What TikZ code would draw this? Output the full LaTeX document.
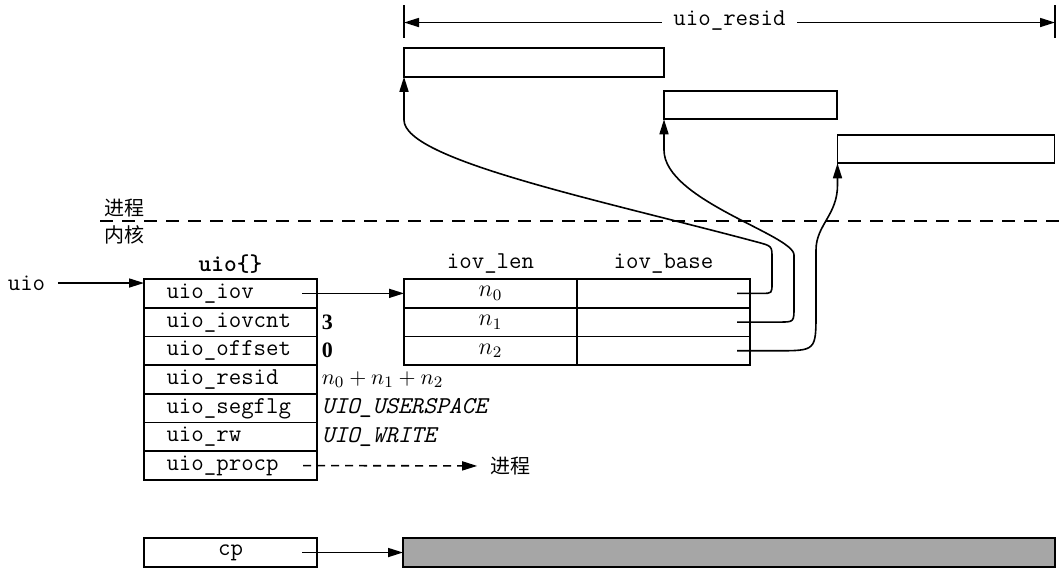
\documentclass[tikz,border=0pt]{standalone}
\usepackage{fontspec}
\setmainfont{Liberation Serif}
\newfontfamily\cjk{Noto Sans CJK SC}
\usetikzlibrary{arrows.meta,positioning,calc}

\begin{document}
\begin{tikzpicture}[x=0.5pt,y=-0.5pt,>={Triangle[length=7.5pt,width=4.5pt]},line width=0.8pt,
      cell/.style={draw,outer sep=0pt,inner xsep=11.25pt,inner ysep=0pt,text width=64pt,align=left,
        minimum height=14.35pt,text height=7.5pt,text depth=2.5pt,font=\fontsize{12.1}{13}\ttfamily},
      vcell/.style={draw,outer sep=0pt,inner sep=0pt,minimum width=86.5pt,minimum height=14.35pt,
        font=\fontsize{11.5}{12}\selectfont},
      buf/.style={draw,outer sep=0pt,inner sep=0pt,minimum height=14.25pt},
      val/.style={inner xsep=2pt,inner ysep=0pt,font=\fontsize{11}{12}\selectfont},
      tt/.style={font=\fontsize{12.1}{13}\ttfamily},
      zh/.style={font=\fontsize{10}{12}\cjk}]
    \useasboundingbox (0,0) rectangle (1059,570);
    % user space buffers
    \coordinate (tickl) at (404,5);
    \coordinate (tickr) at (1055,5);
    \draw (tickl) -- ++(0,33);
    \draw (tickr) -- ++(0,33);
    \node[tt,inner xsep=5.5pt] (residlbl) at (729.5,21) {uio\_resid};
    \draw[->] (residlbl.west |- 0,22.5) -- (tickl |- 0,22.5);
    \draw[->] (residlbl.east |- 0,22.5) -- (tickr |- 0,22.5);
    \node[buf,minimum width=130pt] (buf0) at (534,62.5) {};
    \node[buf,minimum width=86.5pt] (buf1) at (750.5,105) {};
    \node[buf,minimum width=108.5pt] (buf2) at (946,149) {};
    % process / kernel
    \node[zh] (proc) at (124,208) {进程};
    \node[zh] (kern) at (124,235) {内核};
    \coordinate (sepl) at (100,221);
    \coordinate (sepr) at (1059,221);
    \draw[dash pattern=on 6.5pt off 4.5pt] (sepl) -- (sepr);
    % uio structure
    \node[font=\fontsize{12.1}{13}\ttfamily\bfseries] (uiohdr) at (230.5,264) {uio\{\}};
    \node[cell] (iov) at (230.5,293.35) {uio\_iov};
    \node[cell,below=0pt of iov] (iovcnt) {uio\_iovcnt};
    \node[cell,below=0pt of iovcnt] (offset) {uio\_offset};
    \node[cell,below=0pt of offset] (resid) {uio\_resid};
    \node[cell,below=0pt of resid] (segflg) {uio\_segflg};
    \node[cell,below=0pt of segflg] (rw) {uio\_rw};
    \node[cell,below=0pt of rw] (procp) {uio\_procp};
    \node[val,right=0pt of iovcnt] (vcnt) {\textbf{3}};
    \node[val,right=0pt of offset] (voff) {\textbf{0}};
    \node[val,right=0pt of resid] (vsum) {$n_0+n_1+n_2$};
    \node[val,right=0pt of segflg,font=\fontsize{12.1}{13}\ttfamily\itshape] (vseg) {UIO\_USERSPACE};
    \node[val,right=0pt of rw,font=\fontsize{12.1}{13}\ttfamily\itshape] (vrw) {UIO\_WRITE};
    \node[tt,inner xsep=6pt] (uiolbl) at (26.5,283) {uio};
    \draw[->] (uiolbl) -- ($(iov.north west)+(0,4)$);
    \node[zh,inner xsep=6pt] (procref) at (510,466) {进程};
    \draw[->,dash pattern=on 4pt off 3pt] ($(procp.east)+(-14,0)$) -- (procref);
    % iovec array
    \node[tt] (lenhdr) at (490.5,264) {iov\_len};
    \node[tt] (basehdr) at (663.5,264) {iov\_base};
    \node[vcell] (len0) at (490.5,293.35) {$n_0$};
    \node[vcell,below=0pt of len0] (len1) {$n_1$};
    \node[vcell,below=0pt of len1] (len2) {$n_2$};
    \node[vcell,right=0pt of len0] (base0) {};
    \node[vcell,right=0pt of len1] (base1) {};
    \node[vcell,right=0pt of len2] (base2) {};
    \draw[->] ($(iov.east)+(-15,0)$) -- (len0);
    \coordinate (s0) at ($(base0.east)+(-13,0)$);
    \coordinate (s1) at ($(base1.east)+(-13,0)$);
    \coordinate (s2) at ($(base2.east)+(-13,0)$);
    \draw[->] (s0) -- (762,293.35) .. controls (772,293.35) .. (772,283) -- (772,258)
      .. controls (772,246) .. (757,242) .. controls (600,200) and (404,160) .. (404,120) -- (buf0.south west);
    \draw[->] (s1) -- (779,322.05) .. controls (794,322.05) .. (794,307) -- (794,255)
      .. controls (794,235) and (664,200) .. (664,150) -- (buf1.south west);
    \draw[->] (s2) -- (777,350.75) .. controls (816,350.75) .. (816,312) -- (816,250)
      .. controls (816,225) and (837.5,215) .. (837.5,185) -- (buf2.south west);
    % cp
    \node[vcell,font=\fontsize{12.1}{13}\ttfamily] (cp) at (230.5,552.5) {cp};
    \node[buf,fill=black!35,minimum width=326pt] (gbuf) at (729,552.5) {};
    \draw[->] ($(cp.east)+(-15,0)$) -- (gbuf);
  \end{tikzpicture}
\end{document}
